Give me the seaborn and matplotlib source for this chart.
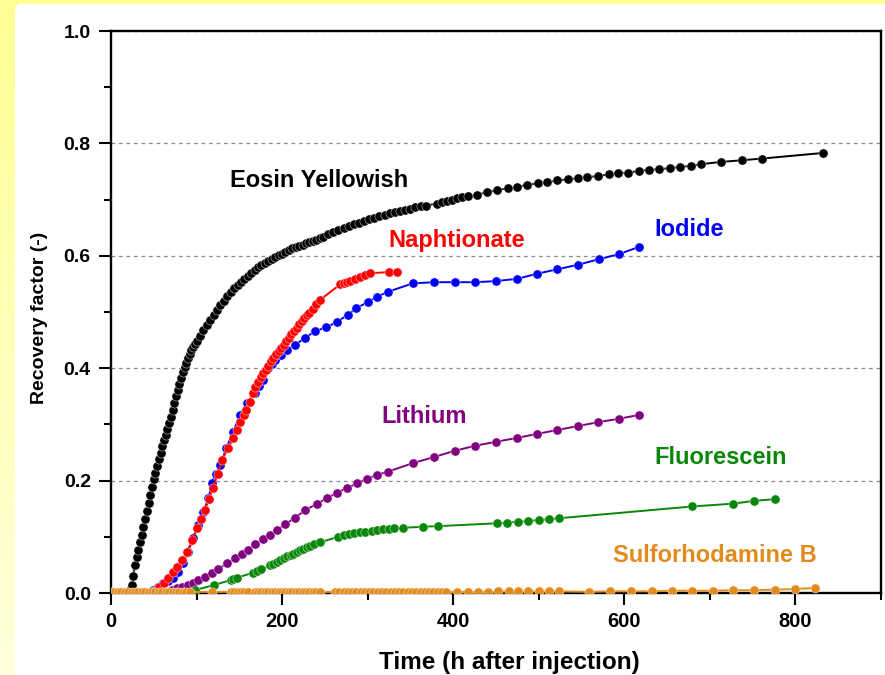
import numpy as np
import pandas as pd
import seaborn as sns
import matplotlib
matplotlib.use("Agg")
import matplotlib.pyplot as plt
from matplotlib.patches import FancyBboxPatch
from matplotlib.ticker import MultipleLocator

# ---------------- data ----------------
eosin_t = [16,18,20,22,24,26,28,30,32,34,36,38,40,42,44,46,48,50,52,54,56,58,60,62,64,66,68,70,72,74,76,78,80,82,84,86,88,90,92,94,96,98,100,
           104,108,112,116,120,124,128,132,136,140,144,148,152,156,160,164,168,172,176,180,184,188,192,196,200,204,208,212,216,220,224,228,232,236,240,244,248,
           254,260,266,272,278,284,290,296,302,308,314,320,326,332,338,344,350,356,362,368,
           381,387,393,399,405,411,417,
           428,440,452,464,475,487,499,510,522,534,546,557,570,582,593,605,617,629,641,654,665,678,690,
           713,738,761,833]
eosin_y = [0.000,0.000,0.002,0.006,0.014,0.030,0.050,0.064,0.077,0.090,0.104,0.118,0.132,0.146,0.160,0.174,0.188,0.202,0.214,0.226,0.238,0.250,0.262,0.272,0.282,0.292,0.302,0.314,0.326,0.338,0.350,0.362,0.372,0.383,0.394,0.402,0.410,0.418,0.425,0.432,0.438,0.443,0.448,
           0.458,0.468,0.477,0.486,0.495,0.504,0.512,0.520,0.528,0.535,0.542,0.548,0.553,0.558,0.564,0.570,0.575,0.580,0.584,0.588,0.591,0.595,0.598,0.601,0.604,0.607,0.610,0.613,0.615,0.618,0.620,0.622,0.624,0.627,0.629,0.632,0.634,
           0.638,0.642,0.646,0.649,0.653,0.656,0.659,0.662,0.665,0.668,0.671,0.673,0.676,0.678,0.680,0.682,0.684,0.686,0.688,0.689,
           0.693,0.696,0.698,0.700,0.702,0.704,0.706,
           0.709,0.713,0.717,0.720,0.723,0.726,0.729,0.731,0.734,0.736,0.738,0.740,0.742,0.745,0.747,0.748,0.751,0.753,0.754,0.756,0.758,0.760,0.763,
           0.767,0.770,0.773,0.783]

naph_t = [45,50,56,62,67,72,77,83,89,95,100,105,110,115,119,125,130,137,143,147,151,155,158,162,166,169,172,175,178,181,
          184,187,190,193,196,199,202,205,208,211,214,217,220,223,226,229,232,236,240,244,268,272,276,280,285,291,297,303,325,334]
naph_y = [0.0,0.004,0.010,0.018,0.027,0.037,0.047,0.059,0.073,0.094,0.115,0.131,0.148,0.168,0.187,0.212,0.237,0.258,0.275,0.290,
          0.305,0.316,0.325,0.340,0.356,0.366,0.375,0.385,0.392,0.397,0.404,0.412,0.419,0.425,0.431,0.436,0.441,0.448,0.454,0.460,
          0.466,0.472,0.478,0.484,0.489,0.494,0.499,0.506,0.514,0.521,0.549,0.551,0.553,0.556,0.559,0.563,0.566,0.569,0.571,0.572]

iod_t = [40,49,55,61,67,73,78,84,90,96,102,108,114,118,123,128,135,143,151,159,168,173,178,184,188,192,199,206,215,227,
         239,252,264,277,287,301,311,324,353,378,402,426,450,475,498,522,546,571,594,618]
iod_y = [0.0,0.005,0.010,0.018,0.022,0.027,0.038,0.053,0.073,0.097,0.121,0.144,0.169,0.196,0.212,0.228,0.258,0.287,0.317,0.338,
         0.356,0.368,0.379,0.400,0.407,0.414,0.424,0.432,0.441,0.454,0.466,0.473,0.482,0.495,0.507,0.518,0.527,0.536,0.551,0.553,
         0.553,0.553,0.555,0.559,0.568,0.576,0.584,0.594,0.603,0.616]

li_t = [62,71,77,83,90,96,102,110,118,125,136,145,153,160,168,178,186,194,204,215,227,241,253,264,276,288,299,311,324,353,
        378,402,426,450,475,498,522,546,570,594,618]
li_y = [0.0,0.005,0.009,0.011,0.014,0.018,0.023,0.029,0.036,0.042,0.053,0.062,0.070,0.077,0.087,0.096,0.104,0.112,0.122,0.134,
        0.147,0.159,0.169,0.178,0.187,0.195,0.203,0.210,0.216,0.231,0.242,0.253,0.262,0.269,0.276,0.283,0.290,0.297,0.304,0.310,0.317]

fluo_t = [40,70,98,120,140,143,147,166,171,176,186,190,194,198,202,206,210,213,217,221,225,229,233,237,244,266,272,278,284,291,
          297,305,311,318,325,331,342,365,383,451,463,476,488,500,512,524,680,728,752,777]
fluo_y = [0.0,0.0,0.005,0.014,0.023,0.025,0.027,0.036,0.040,0.042,0.049,0.052,0.056,0.059,0.062,0.065,0.068,0.070,0.073,0.076,
          0.078,0.081,0.084,0.087,0.090,0.100,0.103,0.105,0.106,0.108,0.109,0.110,0.112,0.113,0.114,0.115,0.116,0.118,0.119,0.124,
          0.125,0.127,0.128,0.130,0.131,0.133,0.154,0.159,0.164,0.167]

sulfo_t = [0,4,8,12,16,20,24,28,32,36,40,44,48,52,56,60,64,68,72,76,80,84,88,92,
           118,140,144,148,152,156,160,
           168,172,176,180,184,188,192,196,200,204,208,212,216,220,224,228,232,236,240,244,
           262,267,272,277,282,287,292,297,302,307,312,317,322,327,332,337,342,347,352,357,362,367,372,377,382,387,392,
           405,417,429,441,453,465,476,488,500,512,524,
           559,584,608,633,656,680,704,728,752,777,800,823]
sulfo_y = [0.002,0.002,0.002,0.002,0.002,0.002,0.002,0.002,0.002,0.002,0.002,0.002,0.002,0.002,0.002,0.002,0.002,0.002,0.002,0.002,0.002,0.002,0.002,0.002,
           0.002,0.002,0.002,0.002,0.002,0.002,0.002,
           0.002,0.002,0.002,0.002,0.002,0.002,0.002,0.002,0.002,0.002,0.002,0.002,0.002,0.002,0.002,0.002,0.002,0.002,0.002,0.002,
           0.002,0.002,0.002,0.002,0.002,0.002,0.002,0.002,0.002,0.002,0.002,0.002,0.002,0.002,0.002,0.002,0.002,0.002,0.002,0.002,0.002,0.002,0.002,0.002,0.002,0.002,0.002,
           0.002,0.002,0.002,0.002,0.003,0.003,0.003,0.003,0.003,0.003,0.003,
           0.002,0.003,0.003,0.003,0.004,0.004,0.004,0.005,0.005,0.006,0.007,0.009]

series_names = ["Eosin Yellowish", "Iodide", "Naphtionate", "Lithium", "Fluorescein", "Sulforhodamine B"]
series_t = [eosin_t, iod_t, naph_t, li_t, fluo_t, sulfo_t]
series_y = [eosin_y, iod_y, naph_y, li_y, fluo_y, sulfo_y]
series_colors = ["#000000", "#0000F5", "#FF0000", "#800080", "#0A870A", "#E38A1C"]

# label anchors (left, baseline) in data units
label_x = [139, 636, 325, 316, 636, 587]
label_y = [0.722, 0.635, 0.616, 0.3025, 0.2295, 0.0552]

x_ticks = [0, 200, 400, 600, 800]
y_ticks = [0.0, 0.2, 0.4, 0.6, 0.8, 1.0]

for tt, yy in zip(series_t, series_y):
    assert len(tt) == len(yy), (len(tt), len(yy))

# ---------------- style ----------------
sns.set_style("ticks")
plt.rcParams["font.family"] = ["Liberation Sans", "DejaVu Sans"]
plt.rcParams["axes.labelcolor"] = "black"
plt.rcParams["text.color"] = "black"

W, H = 885, 675
fig = plt.figure(figsize=(W / 100, H / 100), dpi=100)

# background: yellow frame with a white rounded panel
bg = fig.add_axes([0, 0, 1, 1], zorder=-10)
bg.set_axis_off()
top_c = np.array([1.0, 1.0, 0.58])
bot_c = np.array([1.0, 1.0, 0.86])
grad = np.linspace(0, 1, 256)[:, None, None] * (bot_c - top_c) + top_c
bg.imshow(np.repeat(grad, 2, axis=1), aspect="auto", extent=[0, 1, 0, 1], origin="upper")
panel = FancyBboxPatch((15 / W, -0.05), 1.2, 1.05 - 4 / H,
                       boxstyle="round,pad=0,rounding_size=0.008",
                       transform=bg.transAxes, fc="white", ec="none")
bg.add_patch(panel)
bg.set_xlim(0, 1)
bg.set_ylim(0, 1)

x0, x1 = 111, 880.5
y0, y1 = 593, 31
ax = fig.add_axes([x0 / W, 1 - y0 / H, (x1 - x0) / W, (y0 - y1) / H])
ax.set_facecolor("white")

for name, tt, yy, c in zip(series_names, series_t, series_y, series_colors):
    df = pd.DataFrame({"t": tt, "r": yy})
    sns.lineplot(data=df, x="t", y="r", ax=ax, color=c, estimator=None, sort=False,
                 marker="o", markersize=6.6, markeredgecolor="white", markeredgewidth=0.3,
                 linewidth=1.4, zorder=3)

for name, lx, ly, c in zip(series_names, label_x, label_y, series_colors):
    ax.text(lx, ly, name, color=c, fontsize=17, fontweight="bold",
            ha="left", va="baseline", zorder=5)

ax.set_xlim(0, 900)
ax.set_ylim(0, 1.0)
ax.set_xticks(x_ticks)
ax.set_xticklabels([str(v) for v in x_ticks])
ax.set_yticks(y_ticks)
ax.set_yticklabels([f"{v:.1f}" for v in y_ticks])
ax.xaxis.set_minor_locator(MultipleLocator(100))
ax.yaxis.set_minor_locator(MultipleLocator(0.1))

ax.yaxis.grid(True, which="major", linestyle=(0, (3, 3)), color="#8a8a8a", linewidth=0.9)
ax.xaxis.grid(False)
ax.set_axisbelow(True)

for s in ax.spines.values():
    s.set_visible(True)
    s.set_linewidth(1.7)
    s.set_color("black")

ax.tick_params(axis="both", which="major", direction="out", length=8.5, width=1.5,
               colors="black", labelcolor="black", labelsize=14)
ax.tick_params(axis="both", which="minor", direction="out", length=5, width=1.5, colors="black")
ax.tick_params(axis="y", which="major", pad=6)
ax.tick_params(axis="x", which="major", pad=5, labelsize=14.5)
for lab in ax.get_yticklabels() + ax.get_xticklabels():
    lab.set_fontweight("bold")

ax.set_xlabel("Time (h after injection)", fontsize=17.5, fontweight="bold", color="black")
ax.set_ylabel("Recovery factor (-)", fontsize=14, fontweight="bold", color="black")
ax.xaxis.label.set_va("center")
ax.yaxis.label.set_va("center")
ax.xaxis.set_label_coords((509 - x0) / (x1 - x0), -(662 - y0) / (y0 - y1))
ax.yaxis.set_label_coords(-(x0 - 40) / (x1 - x0), (y0 - 318) / (y0 - y1))

fig.savefig("out.png", dpi=100)
